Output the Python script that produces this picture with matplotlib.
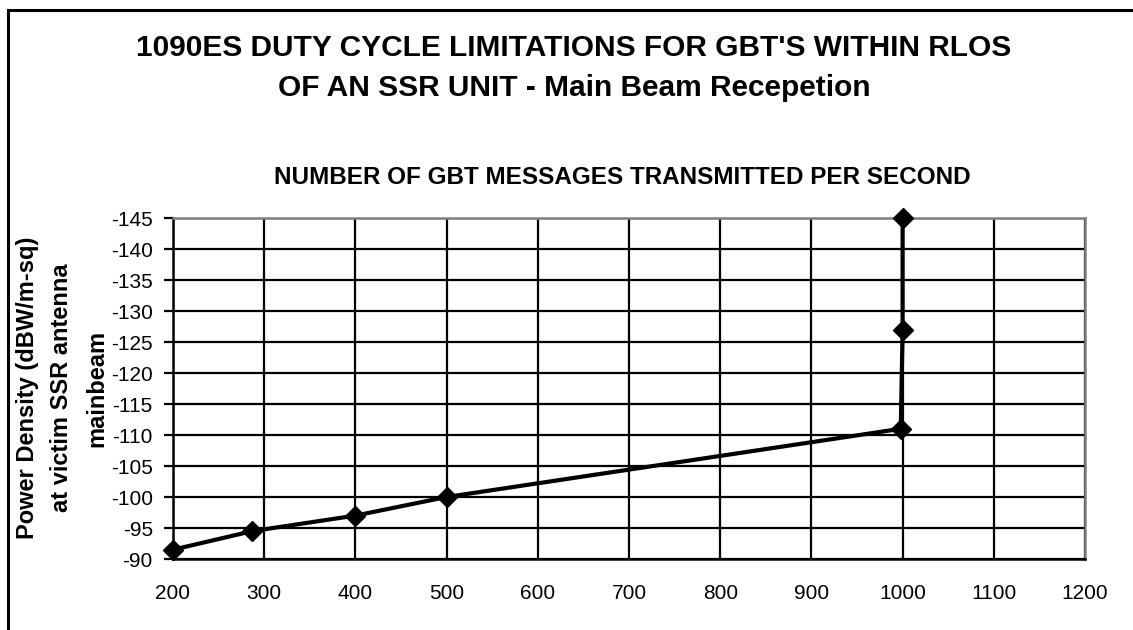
import matplotlib
matplotlib.use("Agg")
import matplotlib.pyplot as plt
from matplotlib.patches import Rectangle

plt.rcParams['font.family'] = ['Liberation Sans', 'DejaVu Sans']

# Data
messages_per_second = [200, 287, 400, 500, 998, 1000, 1000]
power_density = [-91.5, -94.5, -97, -100, -111, -127, -145]
x_ticks = [200, 300, 400, 500, 600, 700, 800, 900, 1000, 1100, 1200]
y_ticks = [-90, -95, -100, -105, -110, -115, -120, -125, -130, -135, -140, -145]

title = "1090ES DUTY CYCLE LIMITATIONS FOR GBT'S WITHIN RLOS\nOF AN SSR UNIT - Main Beam Recepetion"
x_title = "NUMBER OF GBT MESSAGES TRANSMITTED PER SECOND"
y_title = "Power Density (dBW/m-sq)\nat victim SSR antenna\nmainbeam"

fig = plt.figure(figsize=(11.33, 6.3), dpi=100)
ax = fig.add_axes([173/1133, 1 - 559/630, (1085 - 173)/1133, (559 - 218)/630])

# outer frame
fig.patches.append(Rectangle((8/1133, -0.1), 1.2, (630 - 10)/630 + 0.1,
                             transform=fig.transFigure, fill=False,
                             edgecolor='black', linewidth=2.2, zorder=0))

ax.plot(messages_per_second, power_density, color='black', linewidth=3,
        marker='D', markersize=10, zorder=5, clip_on=False)

ax.set_xlim(200, 1200)
ax.set_ylim(-90, -145)
ax.set_xticks(x_ticks)
ax.set_yticks(y_ticks)
ax.set_xticklabels([str(v) for v in x_ticks])
ax.set_yticklabels([str(v) for v in y_ticks])
ax.grid(True, color='black', linewidth=1.6)
ax.set_axisbelow(True)

ax.tick_params(axis='x', length=0, pad=18, labelsize=15)
ax.tick_params(axis='y', length=6.5, width=1.6, pad=8, labelsize=15)

for side in ['top', 'right']:
    ax.spines[side].set_color('#808080')
    ax.spines[side].set_linewidth(1.8)
for side in ['left', 'bottom']:
    ax.spines[side].set_color('black')
    ax.spines[side].set_linewidth(1.8)

fig.text(574/1133, 1 - 68/630, title, ha='center', va='center', fontsize=21.5,
         fontweight='bold', linespacing=1.55)
fig.text(622/1133, 1 - 177/630, x_title, ha='center', va='center',
         fontsize=17.5, fontweight='bold')
fig.text(62/1133, 1 - 388/630, y_title, ha='center', va='center',
         fontsize=17, fontweight='bold', rotation=90, linespacing=1.65)

fig.savefig("out.png", dpi=100)
